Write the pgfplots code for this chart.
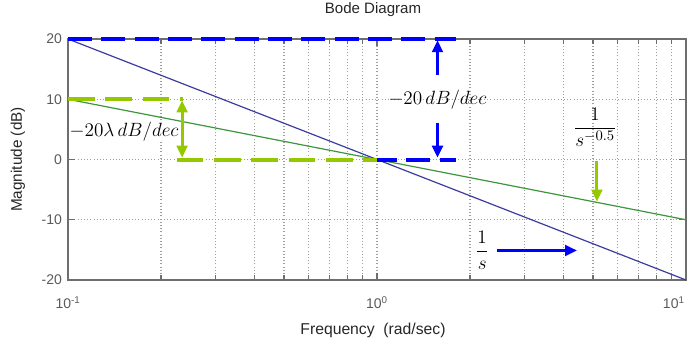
\documentclass[border=0pt]{standalone}
\usepackage{amsmath}
\usepackage{pgfplots}
\pgfplotsset{compat=1.18}
\usepackage{fontspec}
\setmainfont{Liberation Sans}
\usetikzlibrary{arrows.meta}
\definecolor{lineblue}{RGB}{60,60,160}
\definecolor{linegreen}{RGB}{60,150,60}
\definecolor{dashblue}{RGB}{0,0,255}
\definecolor{dashgreen}{RGB}{150,200,0}
\definecolor{axgray}{RGB}{110,110,110}
\definecolor{ticktext}{RGB}{90,90,90}
\begin{document}
\begin{tikzpicture}
\useasboundingbox (-51pt,-47.25pt) rectangle (465.75pt,210pt);
\begin{axis}[
  xmode=log,
  scale only axis,
  width=463.5pt, height=180.75pt,
  xmin=0.1, xmax=10, ymin=-20, ymax=20,
  xtick={0.1,1,10},
  xticklabels={10\textsuperscript{-1},10\textsuperscript{0},\makebox[0pt][r]{10\textsuperscript{1}\hspace{1pt}}},
  ytick={-20,-10,0,10,20},
  yticklabels={-20,-10,0,10,20},
  minor x tick num=0,
  xmajorgrids, xminorgrids, ymajorgrids,
  major grid style={dotted, gray!75, line width=0.8pt},
  minor grid style={dotted, gray!75, line width=0.8pt},
  axis line style={axgray, line width=1.1pt},
  every tick/.style={axgray, line width=0.8pt},
  major tick length=5pt, minor tick length=3.5pt,
  tick label style={font=\fontsize{10.5}{12}\selectfont, text=ticktext},
  xticklabel style={yshift=-9pt},
  yticklabel style={xshift=-1pt},
  xlabel={Frequency\ \ (rad/sec)},
  ylabel={Magnitude (dB)},
  xlabel style={at={(rel axis cs:0.4935,-0.2075)}, anchor=center, font=\fontsize{11.8}{13}\selectfont, text=black!85},
  ylabel style={at={(rel axis cs:-0.081,0.5)}, anchor=center, font=\fontsize{11.5}{13}\selectfont, text=black!85},
  title={Bode Diagram},
  title style={at={(rel axis cs:0.4935,1.087)}, anchor=center, font=\fontsize{11.3}{13}\selectfont, text=black!85},
  clip=false,
]
% main lines
\addplot[lineblue, line width=0.9pt] coordinates {(0.1,20) (10,-20)};
\addplot[linegreen, line width=0.9pt] coordinates {(0.1,10) (10,-10)};
% dashed blue guides
\addplot[dashblue, line width=3pt, dash pattern=on 18pt off 7pt] coordinates {(0.1,20) (1.8,20)};
\addplot[dashblue, line width=3pt, dash pattern=on 18pt off 7pt] coordinates {(0.97,0) (1.8,0)};
% dashed green guides
\addplot[dashgreen, line width=3pt, dash pattern=on 20pt off 8pt] coordinates {(0.1,10) (0.236,10)};
\addplot[dashgreen, line width=3pt, dash pattern=on 20pt off 8pt] coordinates {(0.225,0) (1.0,0)};
% blue arrows
\addplot[dashblue, line width=2.2pt, -{Triangle[length=9pt,width=8pt]}] coordinates {(1.57,14) (1.57,19.8)};
\addplot[dashblue, line width=2.2pt, -{Triangle[length=9pt,width=8pt]}] coordinates {(1.57,6) (1.57,0.3)};
\node[font=\fontsize{15.5}{17}\selectfont] at (axis cs:1.57,10) {$-20\,dB/dec$};
% green double arrow
\addplot[dashgreen, line width=2.2pt, {Triangle[length=9pt,width=8pt]}-{Triangle[length=9pt,width=8pt]}] coordinates {(0.234,9.8) (0.234,0.3)};
\node[font=\fontsize{15.5}{17}\selectfont, fill=white, inner sep=0.5pt] at (axis cs:0.152,4.6) {$-20\lambda\,dB/dec$};
% green arrow to 1/s^-0.5
\addplot[dashgreen, line width=2.2pt, -{Triangle[length=9pt,width=8pt]}] coordinates {(5.15,-0.2) (5.15,-7.0)};
\node[font=\fontsize{15}{17}\selectfont] at (axis cs:5.08,5.4) {$\dfrac{1}{s^{-0.5}}$};
% blue arrow to 1/s
\addplot[dashblue, line width=2.2pt, -{Triangle[length=9pt,width=8pt]}] coordinates {(2.44,-15.1) (4.44,-15.1)};
\node[font=\fontsize{15}{17}\selectfont] at (axis cs:2.19,-15.1) {$\dfrac{1}{s}$};
\end{axis}
\end{tikzpicture}
\end{document}
